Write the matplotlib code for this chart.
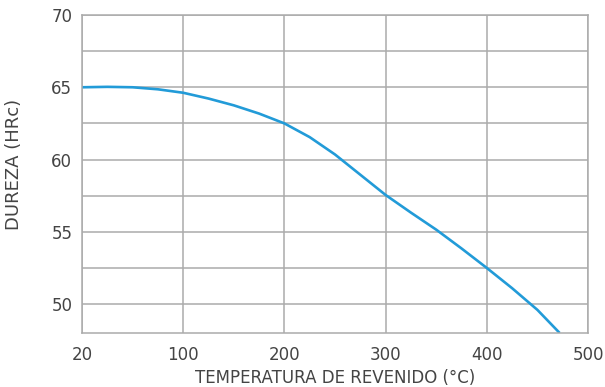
import numpy as np
import matplotlib
matplotlib.use("Agg")
import matplotlib.pyplot as plt

# tempering temperature (C) vs hardness (HRc)
temp = [20, 40, 60, 80, 100, 125, 150, 175, 200, 225, 250, 275, 300,
        325, 350, 375, 400, 425, 450, 472]
hardness = [65.00, 65.03, 65.00, 64.86, 64.62, 64.22, 63.75, 63.18, 62.50,
            61.55, 60.35, 58.95, 57.55, 56.33, 55.15, 53.85, 52.50, 51.10,
            49.60, 48.00]

xticks = [20, 100, 200, 300, 400, 500]
yticks = [50, 55, 60, 65, 70]
ygrid_minor = [52.5, 57.5, 62.5, 67.5]

text_color = "#444444"
grid_color = "#ababab"
line_color = "#229bd8"


# first interval (20-100) is drawn as wide as the others
def fwd(x):
    x = np.asarray(x, dtype=float)
    return np.where(x < 100, (x - 20) * 1.25, x)


def inv(p):
    p = np.asarray(p, dtype=float)
    return np.where(p < 100, p / 1.25 + 20, p)


fig = plt.figure(figsize=(6.05, 3.87), dpi=100)
ax = fig.add_axes([82 / 605, 54 / 387, 506 / 605, 318 / 387])
ax.set_xscale("function", functions=(fwd, inv))

ax.plot(temp, hardness, color=line_color, lw=1.9, solid_capstyle="butt",
        solid_joinstyle="round")

ax.set_xlim(20, 500)
ax.set_ylim(48, 70)
ax.set_xticks(xticks)
ax.set_xticklabels([str(t) for t in xticks])
ax.set_yticks(yticks)
ax.set_yticks(ygrid_minor, minor=True)
ax.xaxis.set_minor_locator(matplotlib.ticker.NullLocator())

ax.grid(True, which="both", color=grid_color, lw=1.1)
ax.set_axisbelow(True)
for s in ax.spines.values():
    s.set_color(grid_color)
    s.set_linewidth(1.1)

ax.tick_params(which="both", length=0, labelsize=12, labelcolor=text_color)
ax.tick_params(axis="x", pad=9)
ax.tick_params(axis="y", pad=7)

ax.set_xlabel("TEMPERATURA DE REVENIDO (°C)", fontsize=12, color=text_color, labelpad=4)
ax.set_ylabel("DUREZA (HRc)", fontsize=13, color=text_color)
ax.yaxis.set_label_coords(-0.116, 0.53)

fig.savefig("out.png", dpi=100)
